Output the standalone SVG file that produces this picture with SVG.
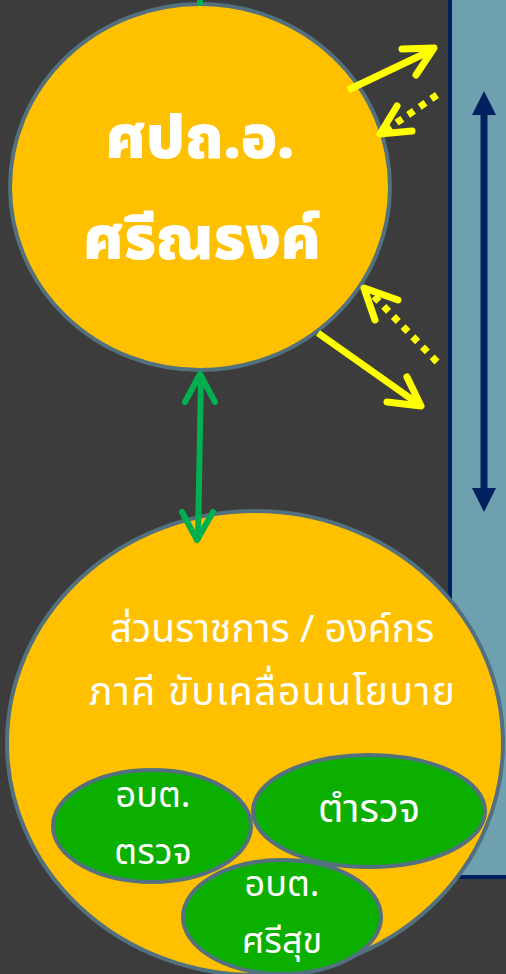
<svg xmlns="http://www.w3.org/2000/svg" width="506" height="974" viewBox="0 0 506 974">
<style>
.bg{fill:#3C3C3C}
.panel{fill:#6FA0B0;stroke:#002060;stroke-width:4}
.orange{fill:#FFC000;stroke:#52707E;stroke-width:4}
.green{fill:#0AAF00;stroke:#52707E;stroke-width:4}
.t{font-family:"Noto Sans Thai","Noto Sans",sans-serif;fill:#FFFFFF;text-anchor:middle}
.big{font-size:60px;font-weight:900}
.mid{font-size:39px}
.sm{font-size:36px}
.lg{font-size:40px}
.y{stroke:#FFFF00;stroke-width:7;fill:none;stroke-linecap:round;stroke-linejoin:round}
.ys{stroke:#FFFF00;stroke-width:7;fill:none}
.yd{stroke:#FFFF00;stroke-width:7;fill:none;stroke-dasharray:7 7}
.g{stroke:#00B050;stroke-width:6;fill:none;stroke-linecap:round;stroke-linejoin:round}
.n{stroke:#002060;stroke-width:7;fill:none}
.nh{fill:#002060}
</style>
<rect class="bg" x="0" y="0" width="506" height="974"/>
<g id="panel">
<rect class="panel" x="450" y="-10" width="70" height="887"/>
</g>
<g id="node-top">
<ellipse class="orange" cx="200" cy="187" rx="190" ry="183"/>
<text class="t big" x="200" y="158">ศปถ.อ.</text>
<text class="t big" x="202" y="259">ศรีณรงค์</text>
</g>
<g id="node-bottom">
<ellipse class="orange" cx="255" cy="743" rx="248" ry="232"/>
<text class="t mid" x="272" y="642">ส่วนราชการ / องค์กร</text>
<text class="t mid" x="272" y="705" textLength="366" lengthAdjust="spacing">ภาคี ขับเคลื่อนนโยบาย</text>
</g>
<g id="node-abt-truat">
<ellipse class="green" cx="152" cy="826" rx="99" ry="56"/>
<text class="t sm" x="153" y="807">อบต.</text>
<text class="t sm" x="153" y="864">ตรวจ</text>
</g>
<g id="node-police">
<ellipse class="green" cx="369" cy="811" rx="116" ry="56"/>
<text class="t lg" x="369" y="822">ตำรวจ</text>
</g>
<g id="node-abt-srisuk">
<ellipse class="green" cx="282" cy="917" rx="99" ry="57"/>
<text class="t sm" x="282" y="896">อบต.</text>
<text class="t sm" x="282" y="953">ศรีสุข</text>
</g>
<g id="connectors">
<line class="n" x1="484" y1="110" x2="484" y2="492"/>
<polygon class="nh" points="484,91 472,115 496,115"/>
<polygon class="nh" points="484,512 472,488 496,488"/>
<line class="g" x1="200" y1="-5" x2="200" y2="3"/>
<line class="g" x1="201" y1="376" x2="198" y2="538"/>
<polyline class="g" points="185,402 200,374 215,402"/>
<polyline class="g" points="182,512 197,540 213,512"/>
<line class="ys" x1="348" y1="90" x2="430" y2="51"/>
<polyline class="y" points="402,49 434,48 416,75"/>
<line class="yd" x1="437" y1="95" x2="386" y2="130"/>
<polyline class="y" points="397,106 380,134 412,131"/>
<line class="yd" x1="437" y1="362" x2="370" y2="292"/>
<polyline class="y" points="375,320 364,288 398,300"/>
<line class="ys" x1="318" y1="333" x2="417" y2="403"/>
<polyline class="y" points="407,377 421,406 387,402"/>
</g>
</svg>
